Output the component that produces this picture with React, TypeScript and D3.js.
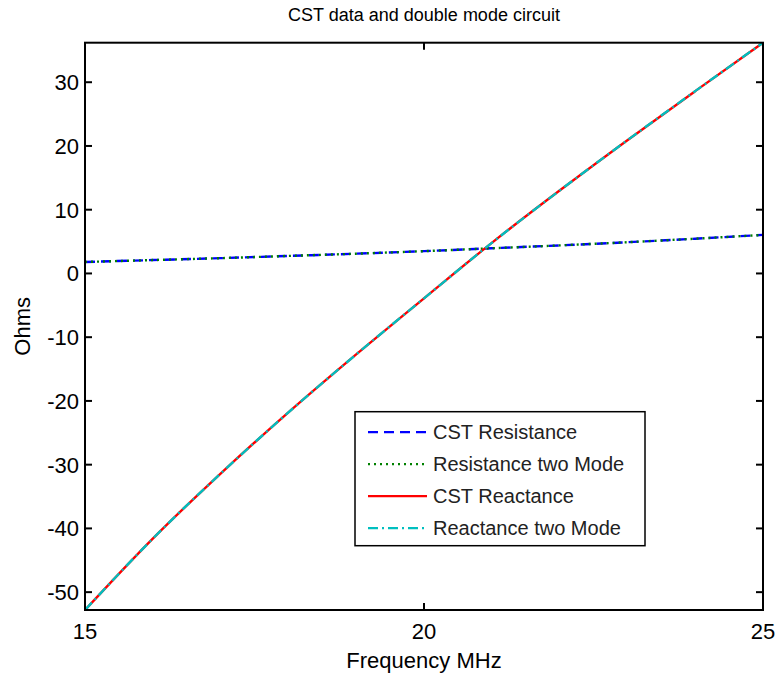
import React from "react";
import * as d3 from "d3";

const freq = [15, 16, 17, 18, 19, 20, 21, 22, 23, 24, 25];
const cstResistance = [1.8, 2.1, 2.4, 2.75, 3.1, 3.5, 3.95, 4.4, 4.9, 5.45, 6.05];
const twoModeResistance = [1.8, 2.1, 2.4, 2.75, 3.1, 3.5, 3.95, 4.4, 4.9, 5.45, 6.05];
const cstReactance = [-52.8, -41.6, -31.4, -21.8, -12.7, -3.9, 4.8, 13.0, 20.9, 28.6, 36.2];
const twoModeReactance = [-52.8, -41.6, -31.4, -21.8, -12.7, -3.9, 4.8, 13.0, 20.9, 28.6, 36.2];
const xTicks = [15, 20, 25];
const yTicks = [-50, -40, -30, -20, -10, 0, 10, 20, 30];
const seriesNames = ["CST Resistance", "Resistance two Mode", "CST Reactance", "Reactance two Mode"];
const seriesColors = ["#0000ff", "#008000", "#ff0000", "#00bfbf"];
const seriesDash = ["10,6", "2,4", "none", "10,4,2,4"];

const W = 778;
const H = 674;
const left = 85;
const right = 763;
const top = 42.7;
const bottom = 610;

export default function App() {
  const x = d3.scaleLinear().domain([15, 25]).range([left, right]);
  const y = d3.scaleLinear().domain([-52.8, 36.2]).range([bottom, top]);
  const seriesData = [cstResistance, twoModeResistance, cstReactance, twoModeReactance];
  const line = d3
    .line<number>()
    .x((_, i) => x(freq[i]))
    .y((d) => y(d))
    .curve(d3.curveMonotoneX);
  const font = "'Liberation Sans', Arial, sans-serif";
  const tickLen = 7;
  const legX = 355;
  const legY = 411.7;
  const legW = 290;
  const legH = 134;

  return (
    <svg
      width={W}
      height={H}
      style={{ position: "absolute", left: 0, top: 0, background: "#fff" }}
      fontFamily={font}
    >
      <rect x={0} y={0} width={W} height={H} fill="#fff" />
      <defs>
        <clipPath id="plotclip">
          <rect x={left} y={top} width={right - left} height={bottom - top} />
        </clipPath>
      </defs>
      <g clipPath="url(#plotclip)">
        {seriesData.map((d, i) => (
          <path
            key={i}
            d={line(d) || ""}
            fill="none"
            stroke={seriesColors[i]}
            strokeWidth={2.4}
            strokeDasharray={seriesDash[i]}
          />
        ))}
      </g>
      {/* axes box */}
      <rect x={left} y={top} width={right - left} height={bottom - top} fill="none" stroke="#000" strokeWidth={2} />
      {xTicks.map((t) => (
        <g key={"xt" + t}>
          <line x1={x(t)} x2={x(t)} y1={bottom} y2={bottom - tickLen} stroke="#000" strokeWidth={2} />
          <line x1={x(t)} x2={x(t)} y1={top} y2={top + tickLen} stroke="#000" strokeWidth={2} />
          <text x={x(t)} y={639} textAnchor="middle" fontSize={22}>
            {t}
          </text>
        </g>
      ))}
      {yTicks.map((t) => (
        <g key={"yt" + t}>
          <line x1={left} x2={left + tickLen} y1={y(t)} y2={y(t)} stroke="#000" strokeWidth={2} />
          <line x1={right} x2={right - tickLen} y1={y(t)} y2={y(t)} stroke="#000" strokeWidth={2} />
          <text x={79} y={y(t)} dy="0.36em" textAnchor="end" fontSize={22}>
            {t}
          </text>
        </g>
      ))}
      <text x={(left + right) / 2} y={21} textAnchor="middle" fontSize={18}>
        CST data and double mode circuit
      </text>
      <text x={(left + right) / 2} y={668} textAnchor="middle" fontSize={22}>
        Frequency MHz
      </text>
      <text
        transform={`translate(30, ${(top + bottom) / 2}) rotate(-90)`}
        textAnchor="middle"
        fontSize={22}
      >
        Ohms
      </text>
      {/* legend */}
      <rect x={legX} y={legY} width={legW} height={legH} fill="#fff" stroke="#000" strokeWidth={1.5} />
      {seriesNames.map((name, i) => {
        const ry = legY + 20.5 + i * 32;
        return (
          <g key={name}>
            <line
              x1={368}
              x2={427}
              y1={ry}
              y2={ry}
              stroke={seriesColors[i]}
              strokeWidth={2.2}
              strokeDasharray={seriesDash[i]}
            />
            <text x={433} y={ry} dy="0.36em" fontSize={20} fill="#222">
              {name}
            </text>
          </g>
        );
      })}
    </svg>
  );
}
